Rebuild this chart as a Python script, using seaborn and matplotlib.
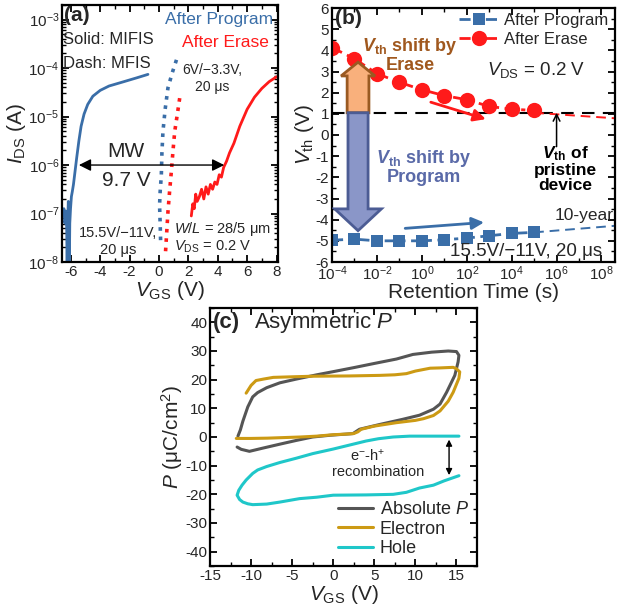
import numpy as np
import matplotlib.pyplot as plt
import seaborn as sns
from matplotlib.patches import FancyArrow
from matplotlib.ticker import NullFormatter
from matplotlib.transforms import blended_transform_factory

sns.set_theme(style="ticks")
plt.rcParams['font.family'] = ['Liberation Sans', 'DejaVu Sans']
plt.rcParams['mathtext.fontset'] = 'custom'
plt.rcParams['mathtext.rm'] = 'Liberation Sans'
plt.rcParams['mathtext.it'] = 'Liberation Sans:italic'
plt.rcParams['mathtext.bf'] = 'Liberation Sans:bold'
plt.rcParams['mathtext.bfit'] = 'Liberation Sans:italic:bold'
plt.rcParams['axes.unicode_minus'] = False

# ---------------- (a) transfer curves, log10(I_DS)
mifis_prog_vgs = [-0.75, -1.5, -2.5, -3.4, -4.0, -4.5, -4.85, -5.1, -5.3, -5.45, -5.6, -5.72, -5.82,
                  -5.9, -5.96, -6.02, -6.07, -6.1, -6.13, -6.17, -6.21, -6.25, -6.28, -6.33, -6.4,
                  -6.47, -6.55]
mifis_prog_log = [-4.13, -4.2, -4.29, -4.37, -4.46, -4.58, -4.75, -4.95, -5.2, -5.5, -5.85, -6.15, -6.4,
                  -6.55, -6.65, -6.9, -7.2, -8.1, -7.1, -6.75, -7.15, -8.1, -7.3, -6.95, -7.2,
                  -6.9, -7.05]
mifis_ers_vgs = [2.2, 2.3, 2.4, 2.5, 2.6, 2.75, 2.9, 3.05, 3.2, 3.35, 3.5, 3.65, 3.8, 3.95, 4.1, 4.25,
                 4.4, 4.6, 4.8, 5.1, 5.5, 6.0, 6.5, 7.0, 7.5, 8.0]
mifis_ers_log = [-7.05, -6.8, -6.9, -6.6, -6.75, -6.65, -6.5, -6.7, -6.45, -6.6, -6.4, -6.5, -6.35, -6.4,
                 -6.2, -6.25, -6.05, -5.92, -5.75, -5.55, -5.2, -4.85, -4.6, -4.42, -4.28, -4.18]
mfis_prog_vgs = [1.19, 0.9, 0.61, 0.42, 0.27, 0.2, 0.16, 0.08, 0.04, 0.08, 0.11]
mfis_prog_log = [-3.83, -4.1, -4.41, -4.85, -5.31, -5.75, -6.21, -6.55, -6.83, -7.2, -7.55]
mfis_ers_vgs = [1.41, 1.25, 1.07, 0.95, 0.84, 0.72, 0.61, 0.52, 0.43]
mfis_ers_log = [-4.62, -4.95, -5.31, -5.72, -6.14, -6.55, -6.97, -7.42, -7.87]

# ---------------- (b) retention
ret_time = [1e-4, 1e-3, 1e-2, 1e-1, 1e0, 1e1, 1e2, 1e3, 1e4, 1e5]
vth_prog = [-4.97, -4.92, -5.0, -5.0, -5.0, -4.95, -4.87, -4.76, -4.65, -4.6]
vth_ers = [4.13, 3.6, 2.9, 2.49, 2.14, 1.86, 1.67, 1.35, 1.22, 1.16]
extrap_time = [1e5, 4e8]
extrap_prog = [-4.6, -4.29]
extrap_ers = [1.05, 0.79]
vth_pristine = 1.05

# ---------------- (c) polarization loops
abs_v = [-11.7, -11.2, -10.2, -8.6, -6.5, -4.5, -2.5, -0.4, 1.0, 2.0, 2.4, 3.2, 5.7, 8.5, 10.5, 12.2,
         13.0, 13.8, 14.8, 15.2, 15.3, 15.0, 14.0, 12.0, 9.7, 7.7, 4.9, 2.5, 0.0, -2.0, -4.5, -6.5,
         -8.1, -9.2, -9.8, -10.4, -11.0, -11.3, -11.6]
abs_p = [-3.5, -4.3, -5.0, -3.9, -2.5, -1.2, 0.0, 0.6, 0.9, 1.1, 1.2, 2.7, 4.4, 6.2, 7.6, 9.7,
         11.5, 15.6, 21.5, 26.2, 28.5, 29.8, 30.0, 29.6, 28.8, 27.2, 25.6, 24.2, 22.8, 21.7, 20.2, 18.9,
         17.2, 15.5, 14.0, 10.5, 5.5, 2.5, 0.3]
ele_v = [-11.8, -10, -8, -6, -4, -2, 0, 1.5, 2.5, 3.0, 3.4, 5.0, 7.7, 10.0, 11.0, 12.2, 13.0, 14.0,
         14.6, 15.3, 15.4, 15.0, 14.6, 13.0, 11.8, 10, 8.9, 7.5, 5.7, 2.0, -2.5, -5.0, -7.3, -8.5,
         -9.4, -10.0, -10.6]
ele_p = [-0.5, -0.5, -0.4, -0.2, 0.0, 0.3, 0.8, 1.0, 1.2, 1.8, 2.7, 3.8, 5.0, 5.8, 6.4, 7.5, 9.1, 12.5,
         15.6, 20.5, 22.7, 23.8, 24.3, 24.1, 24.0, 23.0, 22.1, 21.7, 21.5, 21.3, 21.2, 21.0, 20.8, 20.2,
         19.7, 18.0, 15.3]
hole_v = [15.3, 12, 9.3, 7.3, 5.5, 4.0, 2.0, 0, -2.5, -4.5, -6.5, -8.1, -9.2, -9.8, -10.6, -11.1,
          -11.5, -11.7, -11.4, -11.0, -10.4, -9.8, -8.1, -6.5, -4.1, -2.0, 0, 4.0, 7.3, 8.9, 10.5,
          12.2, 13.5, 15.3]
hole_p = [0.3, 0.3, 0.3, 0.0, -0.6, -1.4, -2.8, -4.2, -5.8, -7.4, -8.9, -10.3, -11.5, -12.7, -15.0,
          -16.8, -18.6, -20.3, -21.8, -22.7, -23.3, -23.6, -23.4, -22.7, -21.5, -21.0, -20.3, -20.2,
          -20.0, -19.3, -17.8, -16.8, -15.3, -13.5]

blue = "#3a6ea8"
red = "#ff1a1a"

fig = plt.figure(figsize=(6.22, 6.12), dpi=100)
axa = fig.add_axes([62 / 622, 1 - 262 / 612, 216 / 622, 257 / 612])
axb = fig.add_axes([332 / 622, 1 - 262 / 612, 283 / 622, 254 / 612])
axc = fig.add_axes([210 / 622, 1 - 566 / 612, 267 / 622, 258 / 612])

for ax in (axa, axb, axc):
    ax.tick_params(which='both', direction='in', top=True, right=True, labelsize=11, color='black',
                   pad=2)
    ax.tick_params(which='major', length=5, width=1.3)
    ax.tick_params(which='minor', length=3, width=1)
    for s in ax.spines.values():
        s.set_linewidth(1.6)
        s.set_color('black')

# ================= (a)
ax = axa
sns.lineplot(x=mifis_prog_vgs, y=10 ** np.array(mifis_prog_log), sort=False, estimator=None,
             color=blue, lw=2, ax=ax)
sns.lineplot(x=mifis_ers_vgs, y=10 ** np.array(mifis_ers_log), sort=False, estimator=None,
             color=red, lw=2, ax=ax)
sns.lineplot(x=mfis_prog_vgs, y=10 ** np.array(mfis_prog_log), sort=False, estimator=None,
             color=blue, lw=2.6, ls=(0, (1, 1.6)), ax=ax)
sns.lineplot(x=mfis_ers_vgs, y=10 ** np.array(mfis_ers_log), sort=False, estimator=None,
             color=red, lw=2.6, ls=(0, (1, 1.6)), ax=ax)
ax.set_yscale('log')
ax.set_ylim(1e-8, 2e-3)
ax.set_xlim(-6.6, 8.1)
ax.set_xticks([-6, -4, -2, 0, 2, 4, 6, 8])
ax.set_xticks([-5, -3, -1, 1, 3, 5, 7], minor=True)
ax.set_yticks([1e-8, 1e-7, 1e-6, 1e-5, 1e-4, 1e-3])
ax.yaxis.set_minor_formatter(NullFormatter())
ax.set_xlabel("$V_{\\rm GS}$ (V)", fontsize=15, labelpad=0)
ax.set_ylabel("$I_{\\rm DS}$ (A)", fontsize=15, labelpad=0)
ax.text(0.01, 0.995, "(a)", transform=ax.transAxes, fontsize=15, fontweight='bold', va='top')
ax.text(7.75, 10 ** -3.0, "After Program", color=blue, fontsize=12.5, ha='right', va='center')
ax.text(7.45, 10 ** -3.48, "After Erase", color=red, fontsize=12.5, ha='right', va='center')
ax.text(-6.55, 10 ** -3.41, "Solid: MIFIS", fontsize=12, ha='left', va='center')
ax.text(-6.55, 10 ** -3.9, "Dash: MFIS", fontsize=12, ha='left', va='center')
ax.text(3.64, 10 ** -4.22, "6V/\u22123.3V,\n20 \u03bcs", fontsize=10, ha='center', va='center',
        linespacing=1.3)
ax.annotate("", xy=(-5.45, 1e-6), xytext=(4.44, 1e-6),
            arrowprops=dict(arrowstyle='<|-|>', color='black', lw=1, mutation_scale=18,
                            shrinkA=0, shrinkB=0))
ax.text(-2.22, 10 ** -5.72, "MW", fontsize=15, ha='center', va='center')
ax.text(-2.22, 10 ** -6.32, "9.7 V", fontsize=15, ha='center', va='center')
ax.text(-2.77, 10 ** -7.58, "15.5V/\u221211V,\n20 \u03bcs", fontsize=10.5, ha='center',
        va='center', linespacing=1.25)
ax.text(1.05, 10 ** -7.31, "$W$/$L$ = 28/5 \u03bcm", fontsize=10.5, ha='left', va='center')
ax.text(1.05, 10 ** -7.69, "$V_{\\rm DS}$ = 0.2 V", fontsize=10.5, ha='left', va='center')

# ================= (b)
ax = axb
dash_dot = (0, (4, 2, 1.5, 2))
ax.axhline(vth_pristine, color='black', lw=1.5, ls=(0, (6, 4)), zorder=1)
sns.lineplot(x=extrap_time, y=extrap_prog, color=blue, lw=1.4, ls=(0, (5, 3)), ax=ax)
sns.lineplot(x=extrap_time, y=extrap_ers, color=red, lw=1.4, ls=(0, (5, 3)), ax=ax)
sns.lineplot(x=ret_time, y=vth_prog, color=blue, lw=2, ls=dash_dot, marker='s', markersize=9,
             markeredgewidth=0, label="After Program", ax=ax)
sns.lineplot(x=ret_time, y=vth_ers, color=red, lw=2, ls=dash_dot, marker='o', markersize=11,
             markeredgewidth=0, label="After Erase", ax=ax)
ax.set_xscale('log')
ax.set_xlim(1e-4, 4e8)
ax.set_ylim(-6, 6)
ax.set_xticks([1e-4, 1e-2, 1e0, 1e2, 1e4, 1e6, 1e8])
ax.set_xticklabels(["$10^{-4}$", "$10^{-2}$", "$10^{0}$", "$10^{2}$", "$10^{4}$", "$10^{6}$",
                    "$10^{8}$"])
ax.set_xticks([1e-3, 1e-1, 1e1, 1e3, 1e5, 1e7], minor=True)
ax.xaxis.set_minor_formatter(NullFormatter())
ax.set_yticks(range(-6, 7))
ax.set_yticks(np.arange(-5.5, 6, 1.0), minor=True)
ax.set_xlabel("Retention Time (s)", fontsize=15, labelpad=0)
ax.set_ylabel("$V_{\\rm th}$ (V)", fontsize=15, labelpad=0)
leg = ax.legend(loc='upper right', bbox_to_anchor=(1.01, 1.02), frameon=False, fontsize=12,
                handlelength=2.4, handletextpad=0.3, labelspacing=0.25, borderaxespad=0.2)
ax.text(0.01, 0.995, "(b)", transform=ax.transAxes, fontsize=15, fontweight='bold', va='top')
ax.text(10 ** 5.1, 3.05, "$V_{\\rm DS}$ = 0.2 V", fontsize=13.5, ha='center', va='center')

tr = blended_transform_factory(ax.transAxes, ax.transData)
ax.add_patch(FancyArrow(0.092, vth_pristine, 0, 3.44 - vth_pristine, width=0.077, head_width=0.12,
                        head_length=0.65, length_includes_head=True, transform=tr,
                        fc='#f9b07c', ec='#9a5a22', lw=2, zorder=4))
ax.add_patch(FancyArrow(0.092, vth_pristine, 0, -4.52 - vth_pristine, width=0.071, head_width=0.165,
                        head_length=1.03, length_includes_head=True, transform=tr,
                        fc='#8a96c8', ec='#4c5c94', lw=2, zorder=4))
ax.text(10 ** -0.52, 3.8, "$\\mathbfit{V}_{\\mathbf{th}}$ shift by\nErase", color='#a0581e',
        fontsize=13, fontweight='bold', ha='center', va='center', linespacing=1.0)
ax.text(10 ** 0.07, -1.5, "$\\mathbfit{V}_{\\mathbf{th}}$ shift by\nProgram", color='#5a6aa8',
        fontsize=13, fontweight='bold', ha='center', va='center', linespacing=1.0)
ax.text(10 ** 6.39, -1.6, "$\\mathbfit{V}_{\\mathbf{th}}$ of\npristine\ndevice", color='black',
        fontsize=12.5, fontweight='bold', ha='center', va='center', linespacing=1.0)
ax.annotate("", xy=(1e6, vth_pristine), xytext=(1e6, -0.55),
            arrowprops=dict(arrowstyle='->', color='black', lw=1.1, mutation_scale=12,
                            shrinkA=0, shrinkB=0))
ax.annotate("", xy=(10 ** 2.85, 0.75), xytext=(10 ** 0.4, 1.55),
            arrowprops=dict(arrowstyle='-|>', color=red, lw=2, mutation_scale=18,
                            shrinkA=0, shrinkB=0))
ax.annotate("", xy=(10 ** 2.77, -4.13), xytext=(10 ** -0.74, -4.41),
            arrowprops=dict(arrowstyle='-|>', color=blue, lw=2, mutation_scale=18,
                            shrinkA=0, shrinkB=0))
ax.text(10 ** 8.54, -3.8, "10-year", fontsize=12.5, ha='right', va='center')
ax.text(10 ** 4.64, -5.5, "15.5V/\u221211V, 20 \u03bcs", fontsize=13.5, ha='center', va='center')

# ================= (c)
ax = axc
sns.lineplot(x=abs_v, y=abs_p, sort=False, estimator=None, color='#555555', lw=2.2,
             label="Absolute $P$", ax=ax)
sns.lineplot(x=ele_v, y=ele_p, sort=False, estimator=None, color='#cc9a14', lw=2.2,
             label="Electron", ax=ax)
sns.lineplot(x=hole_v, y=hole_p, sort=False, estimator=None, color='#1fc7c9', lw=2.2,
             label="Hole", ax=ax)
ax.set_xlim(-15, 17.5)
ax.set_ylim(-45, 45)
ax.set_xticks(range(-15, 16, 5))
ax.set_xticks(np.arange(-12.5, 17.5, 5), minor=True)
ax.set_yticks(range(-40, 41, 10))
ax.set_yticks(range(-45, 46, 10), minor=True)
ax.set_xlabel("$V_{\\rm GS}$ (V)", fontsize=15, labelpad=0)
ax.set_ylabel("$P$ (\u03bcC/cm$^2$)", fontsize=15, labelpad=0)
ax.legend(loc='lower right', bbox_to_anchor=(1.03, -0.03), frameon=False, fontsize=13,
          handlelength=1.9, handletextpad=0.4, labelspacing=0.15)
ax.text(-14.6, 40, "(c)", fontsize=16, fontweight='bold', ha='left', va='center')
ax.text(-9.6, 40, "Asymmetric $P$", fontsize=16, ha='left', va='center')
ax.annotate("", xy=(14.1, -0.9), xytext=(14.1, -13.3),
            arrowprops=dict(arrowstyle='<|-|>', color='black', lw=1, mutation_scale=9,
                            shrinkA=0, shrinkB=0))
ax.text(4.2, -6.5, "e$^{-}$-h$^{+}$", fontsize=10.5, ha='center', va='center')
ax.text(5.5, -12.1, "recombination", fontsize=10.5, ha='center', va='center')

fig.savefig("out.png", dpi=100)
